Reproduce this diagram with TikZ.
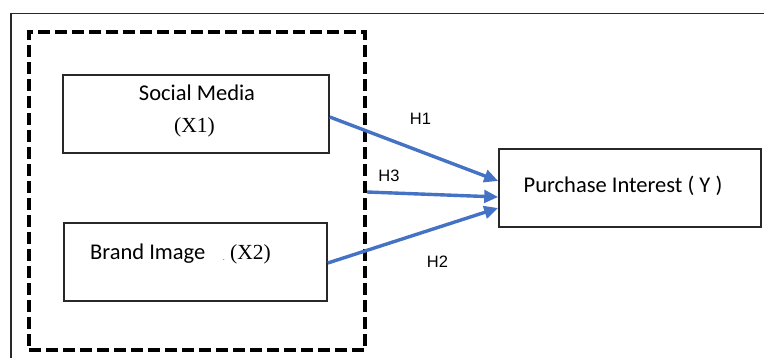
\documentclass[tikz,border=0pt]{standalone}
\usepackage{fontspec}
\setmainfont{Carlito}
\newfontfamily\timesfont{Liberation Serif}
\newfontfamily\arialfont{Liberation Sans}
\usetikzlibrary{arrows.meta}
\definecolor{pathblue}{RGB}{68,114,196}
\definecolor{framegray}{RGB}{40,40,40}
\tikzset{
  varbox/.style={draw=framegray, line width=1.6pt, inner sep=0pt, minimum width=#1},
  varbox/.default=265pt,
  boxtext/.style={inner sep=0pt, font=\fontsize{22.5}{26}\selectfont},
  codetext/.style={inner sep=0pt, font=\timesfont\fontsize{21.5}{25}\selectfont},
  hyplabel/.style={inner sep=0pt, font=\arialfont\fontsize{16.5}{20}\selectfont},
  patharrow/.style={draw=pathblue, line width=3.4pt,
    -{Triangle[length=14pt,width=12.5pt]}}
}
\begin{document}
\begin{tikzpicture}[x=1pt,y=-1pt]
  \useasboundingbox (0,0) rectangle (764,358);
  % outer frame (top and left edges)
  \draw[framegray, line width=1.8pt] (11,358) -- (11,13.5) -- (764,13.5);
  % dashed group of independent variables
  \node[draw=black, line width=4pt, dash pattern=on 12pt off 5pt,
        inner sep=0pt, minimum width=336pt, minimum height=318pt]
        (group) at (197,191) {};
  % variable boxes
  \node[varbox=266pt, minimum height=78pt] (x1) at (196,114) {};
  \node[varbox=263pt, minimum height=78pt] (x2) at (195.5,262) {};
  \node[varbox=262pt, minimum height=78pt] (y) at (630,188) {};
  % box texts
  \node[boxtext, anchor=base] (x1name) at (197,101) {Social Media};
  \node[codetext, anchor=base] (x1code) at (194.5,133) {(X1)};
  \node[boxtext, anchor=base west] (x2name) at (90,260) {Brand Image};
  \node[inner sep=0pt, text=red, font=\fontsize{8}{8}\selectfont, anchor=base]
        (x2dot) at (224,261) {.};
  \node[codetext, anchor=base west] (x2code) at (230,260) {(X2)};
  \node[boxtext, anchor=base] (yname) at (623,193) {Purchase Interest ( Y )};
  % arrow end points
  \coordinate (h1s) at (x1.east |- 0,117);
  \coordinate (h2s) at (x2.east |- 0,263);
  \coordinate (h3s) at (group.east |- 0,192);
  \coordinate (h1e) at (y.west |- 0,181);
  \coordinate (h3e) at (y.west |- 0,197);
  \coordinate (h2e) at (y.west |- 0,208);
  % hypothesis paths
  \draw[patharrow] (h1s) -- (h1e);
  \draw[patharrow] (h3s) -- (h3e);
  \draw[patharrow] (h2s) -- (h2e);
  % hypothesis labels
  \node[hyplabel, anchor=base] (h1) at (420.5,125) {H1};
  \node[hyplabel, anchor=base] (h3) at (389,182) {H3};
  \node[hyplabel, anchor=base] (h2) at (437.5,268) {H2};
\end{tikzpicture}
\end{document}
